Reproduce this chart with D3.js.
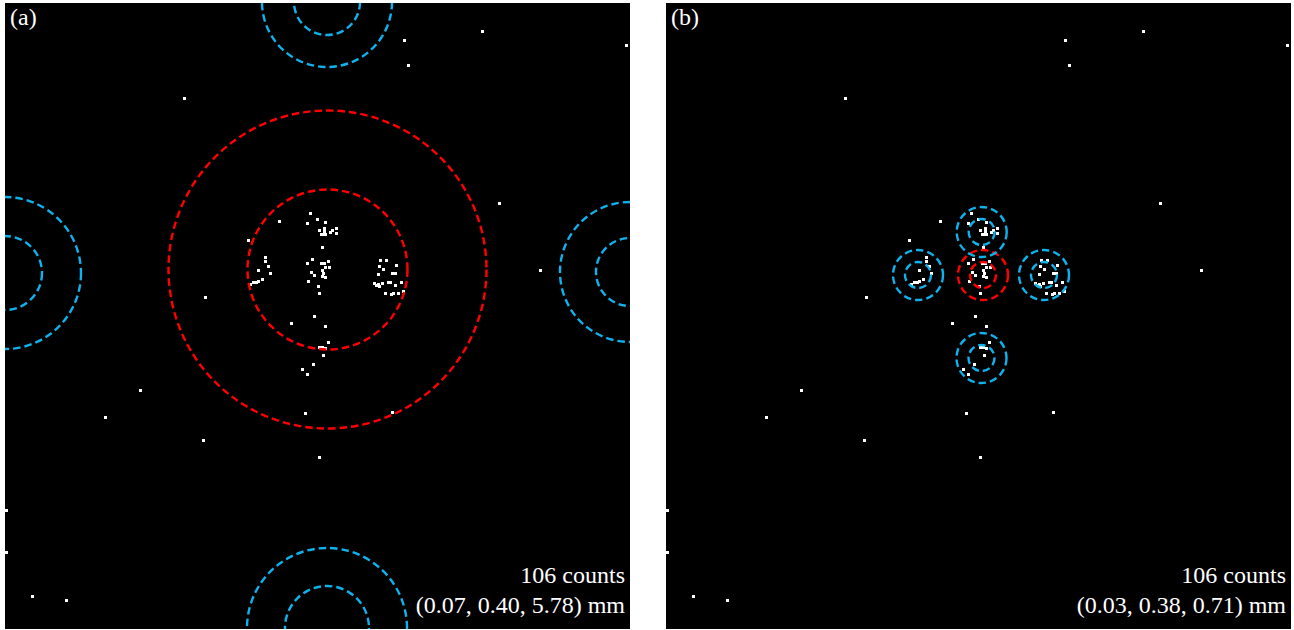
<!DOCTYPE html>
<html>
<head>
<meta charset="utf-8">
<script src="https://cdn.jsdelivr.net/npm/d3@7"></script>
<style>
  html, body { margin: 0; padding: 0; background: #ffffff; }
  svg { display: block; }
</style>
</head>
<body>
<svg id="chart" width="1294" height="630"></svg>
<script>
// Detector hit positions, in detector pixels (0–625 across, y pointing down)
const hitX = [
  399, 403, 477, 621, 179, 494, 535, 200, 135, 100, 198, 300, 314, 387, 1, 1, 27, 61,
  274, 243, 286, 309, 321,
  305, 302, 312, 320, 314, 319, 319, 321, 318, 316, 327, 331, 331, 326, 317,
  307, 302, 316, 319, 323, 324, 321, 317, 318, 306, 309, 321, 303, 313, 314, 317,
  260, 260, 253, 263, 265, 257, 253, 249, 245, 251,
  375, 374, 381, 391, 378, 373, 387, 390, 369, 373, 377, 383, 385, 390, 396, 380, 386, 389, 393, 398, 371, 374,
  323, 314, 317, 321, 318, 308, 297, 302
];
const hitY = [
  37, 62, 28, 42, 96, 200, 267, 294, 387, 414, 437, 410, 454, 409, 507, 549, 593, 597,
  218, 237, 321, 313, 323,
  210, 220, 216, 219, 227, 225, 228, 231, 232, 231, 227, 225, 230, 229, 244,
  256, 260, 260, 260, 258, 264, 264, 267, 270, 269, 272, 274, 278, 283, 290, 273,
  255, 258, 267, 263, 270, 276, 278, 279, 281, 279,
  257, 263, 257, 262, 266, 271, 270, 270, 280, 281, 280, 279, 279, 282, 279, 290, 291, 290, 290, 288, 282, 283,
  339, 344, 344, 345, 352, 361, 366, 371
];

// Acceptance rings for each panel: centre (cx, cy), inner and outer radius, kind
const ringCx_a    = [322.5, 322, 0, 625, 322];
const ringCy_a    = [266.5, -1, 270, 269, 625];
const ringInner_a = [80, 33, 37, 34, 42];
const ringOuter_a = [159, 65, 76, 70, 80];
const ringKind_a  = ["signal", "side", "side", "side", "side"];

const ringCx_b    = [317, 315.7, 252, 378, 315.5];
const ringCy_b    = [272, 229, 272, 272, 355];
const ringInner_b = [13, 13, 13, 13, 13];
const ringOuter_b = [25, 25, 25, 25, 25];
const ringKind_b  = ["signal", "side", "side", "side", "side"];

const panelTags   = ["(a)", "(b)"];
const countLabels = ["106 counts", "106 counts"];
const posLabels   = ["(0.07, 0.40, 5.78) mm", "(0.03, 0.38, 0.71) mm"];

const hits = hitX.map((x, i) => ({ x, y: hitY[i] }));
const rings = [
  ringCx_a.map((cx, i) => ({ cx, cy: ringCy_a[i], r1: ringInner_a[i], r2: ringOuter_a[i], kind: ringKind_a[i] })),
  ringCx_b.map((cx, i) => ({ cx, cy: ringCy_b[i], r1: ringInner_b[i], r2: ringOuter_b[i], kind: ringKind_b[i] }))
];

const svg = d3.select("#chart");
const size = 625;
const panelLeft = [5, 666];
const panelTop = 3;

const x = d3.scaleLinear().domain([0, 625]).range([0, size]);
const y = d3.scaleLinear().domain([0, 625]).range([0, size]);
const rScale = d3.scaleLinear().domain([0, 625]).range([0, size]);
const ringColor = d3.scaleOrdinal().domain(["signal", "side"]).range(["#ff0000", "#0fb2ec"]);

const defs = svg.append("defs");
defs.append("clipPath").attr("id", "panel-clip")
  .append("rect").attr("x", 0).attr("y", 0).attr("width", size).attr("height", size + 1);

panelTags.forEach((tag, p) => {
  const g = svg.append("g").attr("transform", `translate(${panelLeft[p]},${panelTop})`);
  g.append("rect").attr("width", size).attr("height", size + 1).attr("fill", "#000");

  const inner = g.append("g").attr("clip-path", "url(#panel-clip)");

  // hits: small white squares snapped to whole pixels
  inner.selectAll("rect.hit").data(hits).join("rect")
    .attr("class", "hit")
    .attr("x", d => Math.round(x(d.x) - 1.5))
    .attr("y", d => Math.round(y(d.y) - 1.5))
    .attr("width", 3).attr("height", 3)
    .attr("shape-rendering", "crispEdges")
    .attr("fill", "#fff");

  // dashed rings (inner and outer radius)
  const ringPairs = rings[p].flatMap(d => [
    { cx: d.cx, cy: d.cy, r: d.r1, kind: d.kind },
    { cx: d.cx, cy: d.cy, r: d.r2, kind: d.kind }
  ]);
  inner.selectAll("circle.ring").data(ringPairs).join("circle")
    .attr("class", "ring")
    .attr("cx", d => x(d.cx))
    .attr("cy", d => y(d.cy))
    .attr("r", d => rScale(d.r))
    .attr("fill", "none")
    .attr("stroke", d => ringColor(d.kind))
    .attr("stroke-width", 2.4)
    .attr("stroke-dasharray", "7.5,4");

  const font = "'Liberation Serif', 'Times New Roman', serif";
  g.append("text")
    .attr("x", 5).attr("y", 22)
    .attr("fill", "#fff")
    .attr("font-family", font)
    .attr("font-size", 24)
    .text(tag);

  g.append("text")
    .attr("x", 620).attr("y", 580)
    .attr("text-anchor", "end")
    .attr("fill", "#fff")
    .attr("font-family", font)
    .attr("font-size", 24)
    .text(countLabels[p]);

  g.append("text")
    .attr("x", 620).attr("y", 610)
    .attr("text-anchor", "end")
    .attr("fill", "#fff")
    .attr("font-family", font)
    .attr("font-size", 24)
    .text(posLabels[p]);
});
</script>
</body>
</html>
